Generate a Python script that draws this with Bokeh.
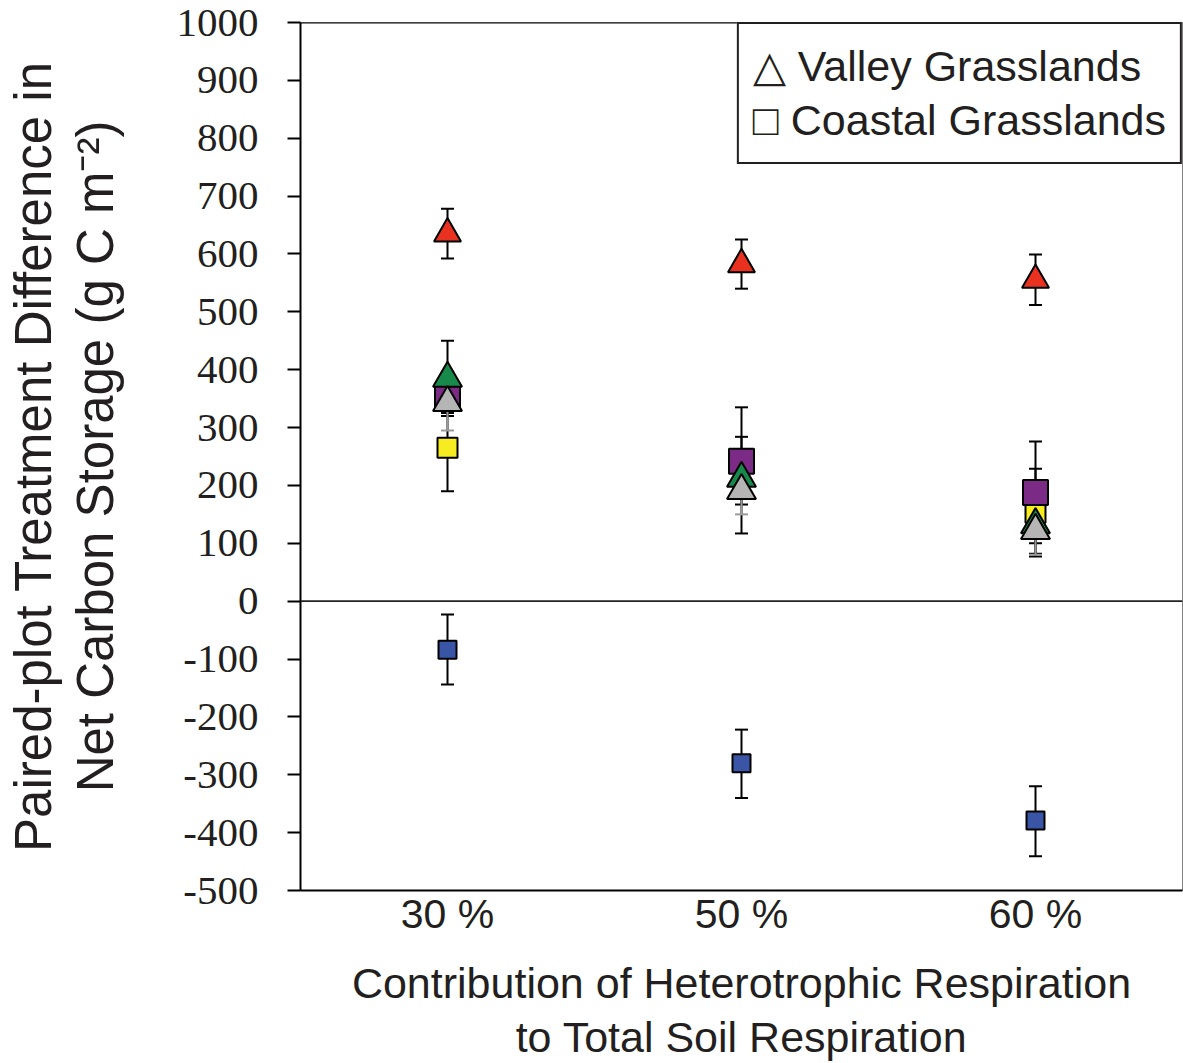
from bokeh.plotting import figure
from bokeh.models import (ColumnDataSource, Whisker, TeeHead, Span, Legend,
                          LegendItem, FactorRange, Range1d, FixedTicker)
from bokeh.embed import file_html
from bokeh.resources import INLINE

# ---------------- data ----------------
categories = ["30 %", "50 %", "60 %"]
y_ticks = [-500, -400, -300, -200, -100, 0, 100, 200, 300, 400, 500, 600, 700, 800, 900, 1000]

# Valley grasslands (triangles)
red_mean = [635, 582, 555]
red_low = [592, 540, 512]
red_high = [678, 625, 599]

green_mean = [385, 212, 132]
green_low = [320, 167, 82]
green_high = [450, 257, 182]

gray_mean = [343, 191, 122]
gray_low = [295, 150, 80]
gray_high = [391, 232, 164]

# Coastal grasslands (squares)
yellow_mean = [265, 240, 153]
yellow_low = [190, 117, 77]
yellow_high = [340, 335, 229]

purple_mean = [355, 242, 188]
purple_low = [325, 200, 100]
purple_high = [385, 284, 276]

blue_mean = [-84, -280, -379]
blue_low = [-144, -340, -441]
blue_high = [-23, -222, -320]

x_title = "Contribution of Heterotrophic Respiration\nto Total Soil Respiration"
y_title = "Paired-plot Treatment Difference in\nNet Carbon Storage (g C m\u207b\u00b2)"

# ---------------- figure ----------------
p = figure(x_range=FactorRange(*categories), y_range=Range1d(-500, 1000),
           width=1183, height=1063, output_backend="svg", toolbar_location=None,
           title=None, min_border_left=300, min_border_right=1,
           min_border_top=22, min_border_bottom=173)

p.grid.visible = False
p.background_fill_color = "white"
p.border_fill_color = "white"
p.outline_line_color = "#808080"
p.outline_line_width = 1

# x axis
p.xaxis.axis_line_width = 2
p.xaxis.axis_line_color = "black"
p.xaxis.major_tick_line_color = None
p.xaxis.minor_tick_line_color = None
p.xaxis.major_tick_out = 0
p.xaxis.major_label_standoff = 0
p.xaxis.major_label_text_font = "Liberation Sans"
p.xaxis.major_label_text_font_size = "41px"
p.xaxis.major_label_text_color = "#231f20"
p.xaxis.axis_label = x_title
p.xaxis.axis_label_text_font = "Liberation Sans"
p.xaxis.axis_label_text_font_size = "43px"
p.xaxis.axis_label_text_font_style = "normal"
p.xaxis.axis_label_text_color = "#231f20"
p.xaxis.axis_label_text_line_height = 1.13
p.xaxis.axis_label_standoff = 19

# y axis
p.yaxis.ticker = FixedTicker(ticks=y_ticks)
p.yaxis.major_label_overrides = {t: str(t) for t in y_ticks}
p.yaxis.axis_line_width = 2
p.yaxis.axis_line_color = "black"
p.yaxis.major_tick_out = 13
p.yaxis.major_tick_in = 0
p.yaxis.major_tick_line_width = 2
p.yaxis.minor_tick_line_color = None
p.yaxis.major_label_standoff = 29
p.yaxis.major_label_text_font = "Liberation Serif"
p.yaxis.major_label_text_font_size = "41px"
p.yaxis.major_label_text_color = "#231f20"
p.yaxis.axis_label = y_title
p.yaxis.axis_label_text_font = "Liberation Sans"
p.yaxis.axis_label_text_font_size = "51px"
p.yaxis.axis_label_text_font_style = "normal"
p.yaxis.axis_label_text_color = "#231f20"
p.yaxis.axis_label_text_line_height = 1.08
p.yaxis.axis_label_standoff = 50

# top frame line and zero line
p.add_layout(Span(location=1000, dimension="width", line_color="black", line_width=2))
p.add_layout(Span(location=0, dimension="width", line_color="#222222", line_width=1.6))


def add_series(mean, low, high, marker, size, color, err_color):
    src = ColumnDataSource(dict(x=categories, y=mean, low=low, high=high))
    w = Whisker(source=src, base="x", lower="low", upper="high", dimension="height",
                line_color=err_color, line_width=2, level="underlay",
                upper_head=TeeHead(size=13, line_color=err_color, line_width=2),
                lower_head=TeeHead(size=13, line_color=err_color, line_width=2))
    p.add_layout(w)
    return p.scatter("x", "y", source=src, marker=marker, size=size,
                     fill_color=color, line_color="black", line_width=2)


r_blue = add_series(blue_mean, blue_low, blue_high, "square", 18, "#3a55a6", "black")
r_red = add_series(red_mean, red_low, red_high, "triangle", 27, "#e8311f", "black")
r_yellow = add_series(yellow_mean, yellow_low, yellow_high, "square", 20, "#f6ec1f", "black")
r_purple = add_series(purple_mean, purple_low, purple_high, "square", 25, "#7b2a86", "black")
r_green = add_series(green_mean, green_low, green_high, "triangle", 29, "#17894a", "black")
r_gray = add_series(gray_mean, gray_low, gray_high, "triangle", 29, "#b5b5b5", "#9a9a9a")

# legend (symbols as text, as in the original)
legend = Legend(items=[LegendItem(label="\u25b3 Valley Grasslands", renderers=[r_red]),
                       LegendItem(label="\u25a1 Coastal Grasslands", renderers=[r_blue])],
                location="top_right", margin=0, padding=14, spacing=0,
                glyph_width=0, glyph_height=20, label_standoff=0, label_height=55,
                label_text_font="Liberation Sans", label_text_font_size="43px",
                label_text_color="#231f20",
                border_line_color="#231f20", border_line_width=2, border_line_alpha=1.0,
                background_fill_color="white", background_fill_alpha=1.0)
p.add_layout(legend)

open("out.html", "w").write(file_html(p, INLINE))
